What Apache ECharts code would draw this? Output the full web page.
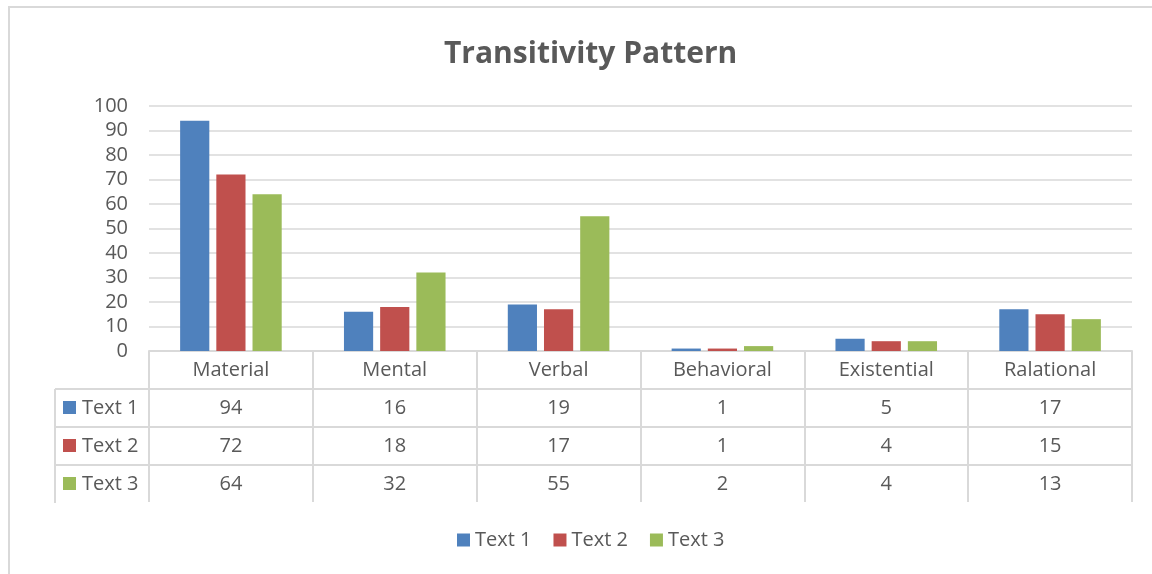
<!DOCTYPE html>
<html>
<head>
<meta charset="utf-8">
<script src="https://cdn.jsdelivr.net/npm/echarts@6/dist/echarts.min.js"></script>
<style>
  html, body { margin: 0; padding: 0; background: #fff; }
  #main { width: 1152px; height: 574px; }
</style>
</head>
<body>
<div id="main"></div>
<script>
// 数据
var categories = ['Material', 'Mental', 'Verbal', 'Behavioral', 'Existential', 'Ralational'];
var seriesNames = ['Text 1', 'Text 2', 'Text 3'];
var text1 = [94, 16, 19, 1, 5, 17];
var text2 = [72, 18, 17, 1, 4, 15];
var text3 = [64, 32, 55, 2, 4, 13];
var colors = ['#4f81bd', '#c0504d', '#9bbb59'];

var font = '"Open Sans", sans-serif';
var textColor = '#595959';
var lineColor = '#d9d9d9';

var gridLeft = 149, gridRight = 20, gridTop = 106, gridBottom = 223;
var tableLeft = 55;
var rowH = 38;

var chart = echarts.init(document.getElementById('main'));
var allData = [text1, text2, text3];

var option = {
    animation: false,
    backgroundColor: '#fff',
    title: {
        text: 'Transitivity Pattern',
        left: 439,
        top: 34,
        textStyle: { fontFamily: font, fontSize: 30, fontWeight: 'bold', color: textColor }
    },
    legend: {
        bottom: 19,
        left: 452,
        icon: 'rect',
        itemWidth: 13,
        itemHeight: 13,
        itemGap: 22,
        itemTextGap: 6,
        textStyle: { fontFamily: font, fontSize: 20, color: textColor }
    },
    grid: { left: gridLeft, right: gridRight, top: gridTop, bottom: gridBottom },
    xAxis: {
        type: 'category',
        data: categories,
        axisLine: { lineStyle: { color: lineColor, width: 2 } },
        axisTick: { show: true, length: rowH * 4 - 1, lineStyle: { color: lineColor, width: 2 } },
        axisLabel: {
            fontFamily: font, fontSize: 20, color: textColor,
            margin: 19, verticalAlign: 'middle'
        }
    },
    yAxis: {
        type: 'value',
        min: 0,
        max: 100,
        interval: 10,
        axisLine: { show: false },
        axisTick: { show: false },
        axisLabel: { fontFamily: font, fontSize: 20, color: textColor, margin: 21 },
        splitLine: { lineStyle: { color: lineColor, width: 1.5 } }
    },
    series: seriesNames.map(function (name, i) {
        return {
            name: name,
            type: 'bar',
            data: allData[i],
            itemStyle: { color: colors[i] },
            barGap: '24%',
            barCategoryGap: '38%'
        };
    })
};
chart.setOption(option);

// 数据表格
var axisY = 574 - gridBottom;
var rightX = 1152 - gridRight;
var graphic = [];
// 外框
graphic.push({
    type: 'rect', shape: { x: 9, y: 7, width: 1200, height: 600 },
    style: { fill: null, stroke: lineColor, lineWidth: 2 }, silent: true, z: -1
});
for (var r = 1; r <= 3; r++) {
    graphic.push({
        type: 'line', shape: { x1: tableLeft, y1: axisY + rowH * r, x2: rightX, y2: axisY + rowH * r },
        style: { stroke: lineColor, lineWidth: 2 }, silent: true
    });
}
graphic.push({
    type: 'line', shape: { x1: tableLeft, y1: axisY + rowH, x2: tableLeft, y2: axisY + rowH * 4 },
    style: { stroke: lineColor, lineWidth: 2 }, silent: true
});
for (var s = 0; s < seriesNames.length; s++) {
    var cy = axisY + rowH * (s + 1) + rowH / 2;
    graphic.push({
        type: 'rect', shape: { x: tableLeft + 8, y: cy - 7, width: 13, height: 13 },
        style: { fill: colors[s] }, silent: true
    });
    graphic.push({
        type: 'text', x: tableLeft + 27, y: cy,
        style: { text: seriesNames[s], font: '20px ' + font, fill: textColor, verticalAlign: 'middle' },
        silent: true
    });
    for (var c = 0; c < categories.length; c++) {
        var cx = chart.convertToPixel({ xAxisIndex: 0 }, categories[c]);
        graphic.push({
            type: 'text', x: cx, y: cy,
            style: { text: String(allData[s][c]), font: '20px ' + font, fill: textColor, align: 'center', verticalAlign: 'middle' },
            silent: true
        });
    }
}
chart.setOption({ graphic: graphic });
</script>
</body>
</html>
